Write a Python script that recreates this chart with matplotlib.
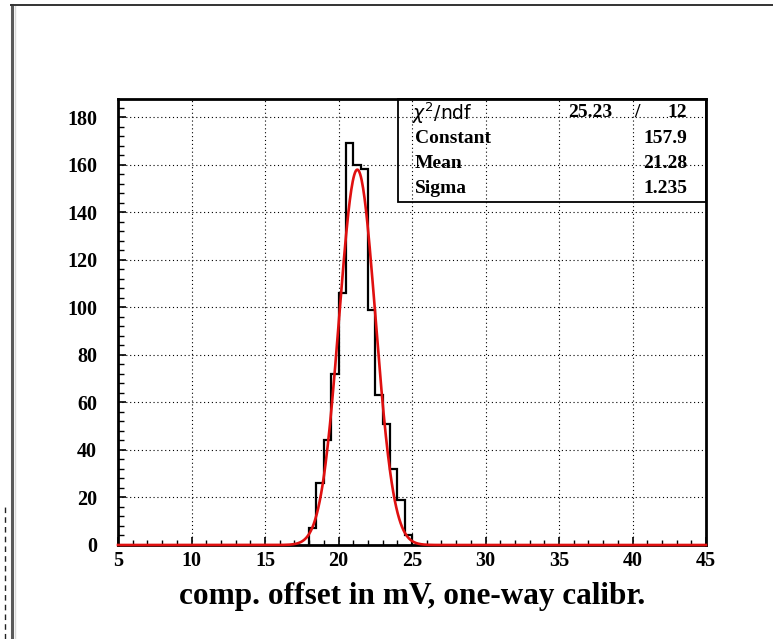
import numpy as np
import matplotlib
matplotlib.use("Agg")
import matplotlib.pyplot as plt
from matplotlib.lines import Line2D
from matplotlib.patches import Rectangle
from matplotlib.ticker import MultipleLocator

# histogram (0.5 mV bins)
bin_edges = [18.0, 18.5, 19.0, 19.5, 20.0, 20.5, 21.0, 21.5, 22.0,
             22.5, 23.0, 23.5, 24.0, 24.5, 25.0]
counts = [7, 26, 44, 72, 106, 169, 160, 158, 99, 63, 51, 32, 19, 4]

# gaussian fit parameters from the stats box
fit_constant = 157.9
fit_mean = 21.28
fit_sigma = 1.235
chi2 = "25.23"
ndf = "12"

x_range = (5, 45)
y_max = 187.6

W, H = 773, 639
fig = plt.figure(figsize=(W / 100, H / 100), dpi=100)
fig.patch.set_facecolor("white")

# axes box position in pixels: left 118, right 706, top 99, bottom 545
ax = fig.add_axes([118 / W, (H - 545) / H, (706 - 118) / W, (545 - 99) / H])

serif = "Liberation Serif"

ax.stairs(counts, bin_edges, color="black", linewidth=1.6, zorder=3)

xf = np.linspace(x_range[0], x_range[1], 800)
yf = fit_constant * np.exp(-0.5 * ((xf - fit_mean) / fit_sigma) ** 2)
ax.plot(xf, yf, color="#e01010", linewidth=1.9, zorder=4, clip_on=False)

ax.set_xlim(*x_range)
ax.set_ylim(0, y_max)

ax.xaxis.set_major_locator(MultipleLocator(5))
ax.xaxis.set_minor_locator(MultipleLocator(1))
ax.yaxis.set_major_locator(MultipleLocator(20))
ax.yaxis.set_minor_locator(MultipleLocator(4))

ax.tick_params(axis="both", which="both", direction="in", color="black",
               top=False, right=False)
ax.tick_params(axis="x", which="major", length=6, width=1.2, pad=4)
ax.tick_params(axis="x", which="minor", length=3.5, width=1.0)
ax.tick_params(axis="y", which="major", length=6, width=1.2, pad=15)
ax.tick_params(axis="y", which="minor", length=4.5, width=1.0)

for lab in ax.get_xticklabels() + ax.get_yticklabels():
    lab.set_fontfamily(serif)
    lab.set_fontweight("bold")
    lab.set_fontsize(14.5)

for sp in ax.spines.values():
    sp.set_linewidth(2)
    sp.set_color("black")

ax.grid(True, which="major", color="black", linestyle=(0, (1, 2.5)),
        linewidth=0.8)
ax.set_axisbelow(True)

ax.set_xlabel("comp. offset in mV, one-way calibr.", fontfamily=serif,
              fontweight="bold", fontsize=22.5, labelpad=8)

# stats box (transparent, grid shows through)
bx0 = (398 - 118) / 588
by0 = (545 - 202) / 446
ax.add_patch(Rectangle((bx0, by0), 1 - bx0, 1 - by0, transform=ax.transAxes,
                       fill=False, edgecolor="black", linewidth=1.3, zorder=5,
                       clip_on=False))

rows_y = [0.969, 0.912, 0.856, 0.800]
lab_x = 0.505
val_x = 0.968
txt = dict(fontfamily=serif, fontweight="bold", fontsize=14,
           transform=ax.transAxes, va="center", zorder=6)
ax.text(0.500, rows_y[0], r"$\chi^2$/ndf", fontsize=13.5, va="center",
        transform=ax.transAxes, fontfamily="DejaVu Sans", zorder=6)
ax.text(0.840, rows_y[0], chi2, ha="right", **txt)
ax.text(0.882, rows_y[0], "/", ha="center", **txt)
ax.text(val_x, rows_y[0], ndf, ha="right", **txt)
ax.text(lab_x, rows_y[1], "Constant", ha="left", **txt)
ax.text(val_x, rows_y[1], f"{fit_constant:.1f}", ha="right", **txt)
ax.text(lab_x, rows_y[2], "Mean", ha="left", **txt)
ax.text(val_x, rows_y[2], f"{fit_mean:.2f}", ha="right", **txt)
ax.text(lab_x, rows_y[3], "Sigma", ha="left", **txt)
ax.text(val_x, rows_y[3], f"{fit_sigma:.3f}", ha="right", **txt)

# window frame around the canvas
fig.add_artist(Line2D([11.5 / W, 11.5 / W], [0, 1 - 5 / H], color="#5a5a5a",
                      linewidth=2.2))
fig.add_artist(Line2D([14.5 / W, 14.5 / W], [0, 1 - 6 / H], color="#d8d8d8",
                      linewidth=1.0))
fig.add_artist(Line2D([11 / W, 1], [1 - 5 / H, 1 - 5 / H], color="#333333",
                      linewidth=1.4))
fig.add_artist(Line2D([5 / W, 5 / W], [0, (H - 505) / H], color="#222222",
                      linewidth=1.0, linestyle=(0, (4, 3))))

fig.savefig("out.png", dpi=100, facecolor="white")
